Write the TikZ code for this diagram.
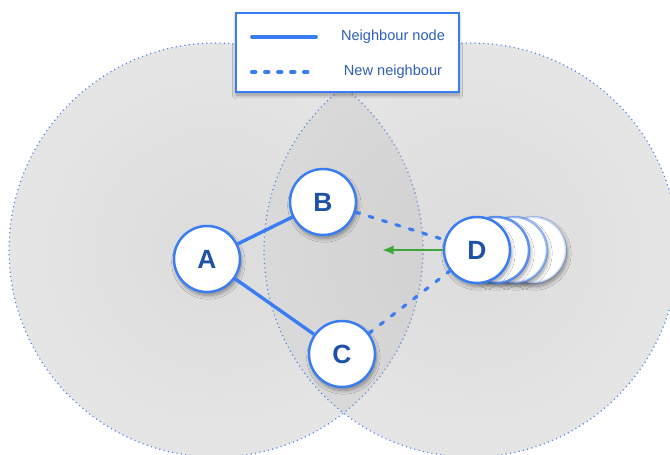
\documentclass[tikz,border=0pt]{standalone}
\usepackage{fontspec}
\setmainfont{Liberation Sans}
\usetikzlibrary{positioning, arrows.meta, shadows.blur}

\definecolor{linkblue}{HTML}{3A7CF2}
\definecolor{labelblue}{HTML}{1D52A8}
\definecolor{legendtext}{HTML}{2E5FB8}
\definecolor{moveGreen}{HTML}{3DA63A}
\definecolor{rangedot}{HTML}{4A85EE}

% radio range: darker towards the station
\pgfdeclareradialshading{rangeshade}{\pgfpoint{0bp}{0bp}}{color(0bp)=(black!14); color(50bp)=(black!6)}

\tikzset{
  station/.style={circle, draw=linkblue, line width=1.4pt, fill=white,
    minimum size=1.32cm, inner sep=0pt, text=labelblue,
    font=\fontsize{15}{18}\selectfont\bfseries,
    blur shadow={shadow xshift=0.8pt, shadow yshift=-2pt, shadow blur steps=8, shadow opacity=40}},
  ghost/.style={station, draw opacity=#1},
  nbr/.style={draw=linkblue, line width=1.9pt},
  newnbr/.style={draw=linkblue, line width=1.8pt, line cap=round, dash pattern=on 2.3pt off 5.7pt},
  rangeedge/.style={draw=rangedot, line width=0.7pt, dash pattern=on 0.6pt off 1.9pt},
  legendbox/.style={draw=linkblue, line width=0.6pt, fill=white, minimum width=4.46cm, minimum height=1.58cm,
    blur shadow={shadow xshift=0pt, shadow yshift=-1.8pt, shadow blur steps=8, shadow opacity=35}},
  legendtext/.style={text=legendtext, font=\fontsize{8.3}{10}\selectfont, inner sep=0pt},
  movearrow/.style={draw=moveGreen, line width=1.3pt, -{Latex[length=6.6pt,width=5.4pt]}}
}

\begin{document}
\begin{tikzpicture}
    \useasboundingbox (0,0) rectangle (13.4,9.1);

    % ==========================================
    % Radio ranges
    % ==========================================
    \shade[shading=rangeshade] (4.32,4.10) circle (4.14);
    \shade[shading=rangeshade] (9.42,4.10) circle (4.14);
    % overlap of both ranges
    \begin{scope}
        \clip (4.32,4.10) circle (4.14);
        \fill[black, opacity=0.05] (9.42,4.10) circle (4.14);
    \end{scope}
    \draw[rangeedge] (4.32,4.10) circle (4.14);
    \begin{scope}
        \clip (9.42,4.10) circle (4.14);
        \draw[rangeedge, draw=rangedot!45!gray!70] (4.32,4.10) circle (4.14);
    \end{scope}
    \draw[rangeedge] (9.42,4.10) circle (4.14);

    % ==========================================
    % Legend
    % ==========================================
    \node[legendbox] (legend) at (6.95,8.05) {};
    \node[legendtext] (lgsolid) at (7.86,8.36) {Neighbour node};
    \node[legendtext] (lgdash) at (7.86,7.66) {New neighbour};
    \coordinate (solidA) at (5.04,8.36);
    \coordinate (solidB) at (6.32,8.36);
    \coordinate (dashA) at (5.04,7.66);
    \coordinate (dashB) at (6.32,7.66);
    \draw[nbr, line cap=round, line width=2.2pt] (solidA) -- (solidB);
    \draw[newnbr, line width=2.2pt, dash pattern=on 2pt off 5.4pt] (dashA) -- (dashB);

    % ==========================================
    % Stations
    % ==========================================
    \node[station] (A) at (4.14,3.92) {A};
    \node[station] (B) at (6.46,5.06) {B};
    \node[station] (C) at (6.84,2.02) {C};

    % D moving left, trail of earlier positions
    \foreach \i/\dx/\op in {3/1.12/0.25, 2/0.74/0.5, 1/0.38/0.8}
        \node[ghost=\op] (D\i) at ({9.54+\dx},4.10) {};
    \node[station] (D) at (9.54,4.10) {D};

    % ==========================================
    % Links
    % ==========================================
    \draw[nbr] (A) -- (B);
    \draw[nbr] (A) -- (C);
    \draw[newnbr] (B) -- (D);
    \draw[newnbr] (C) -- (D);

    \coordinate (moveto) at (7.64,4.10);
    \draw[movearrow] (D.west) -- (moveto);

\end{tikzpicture}
\end{document}
